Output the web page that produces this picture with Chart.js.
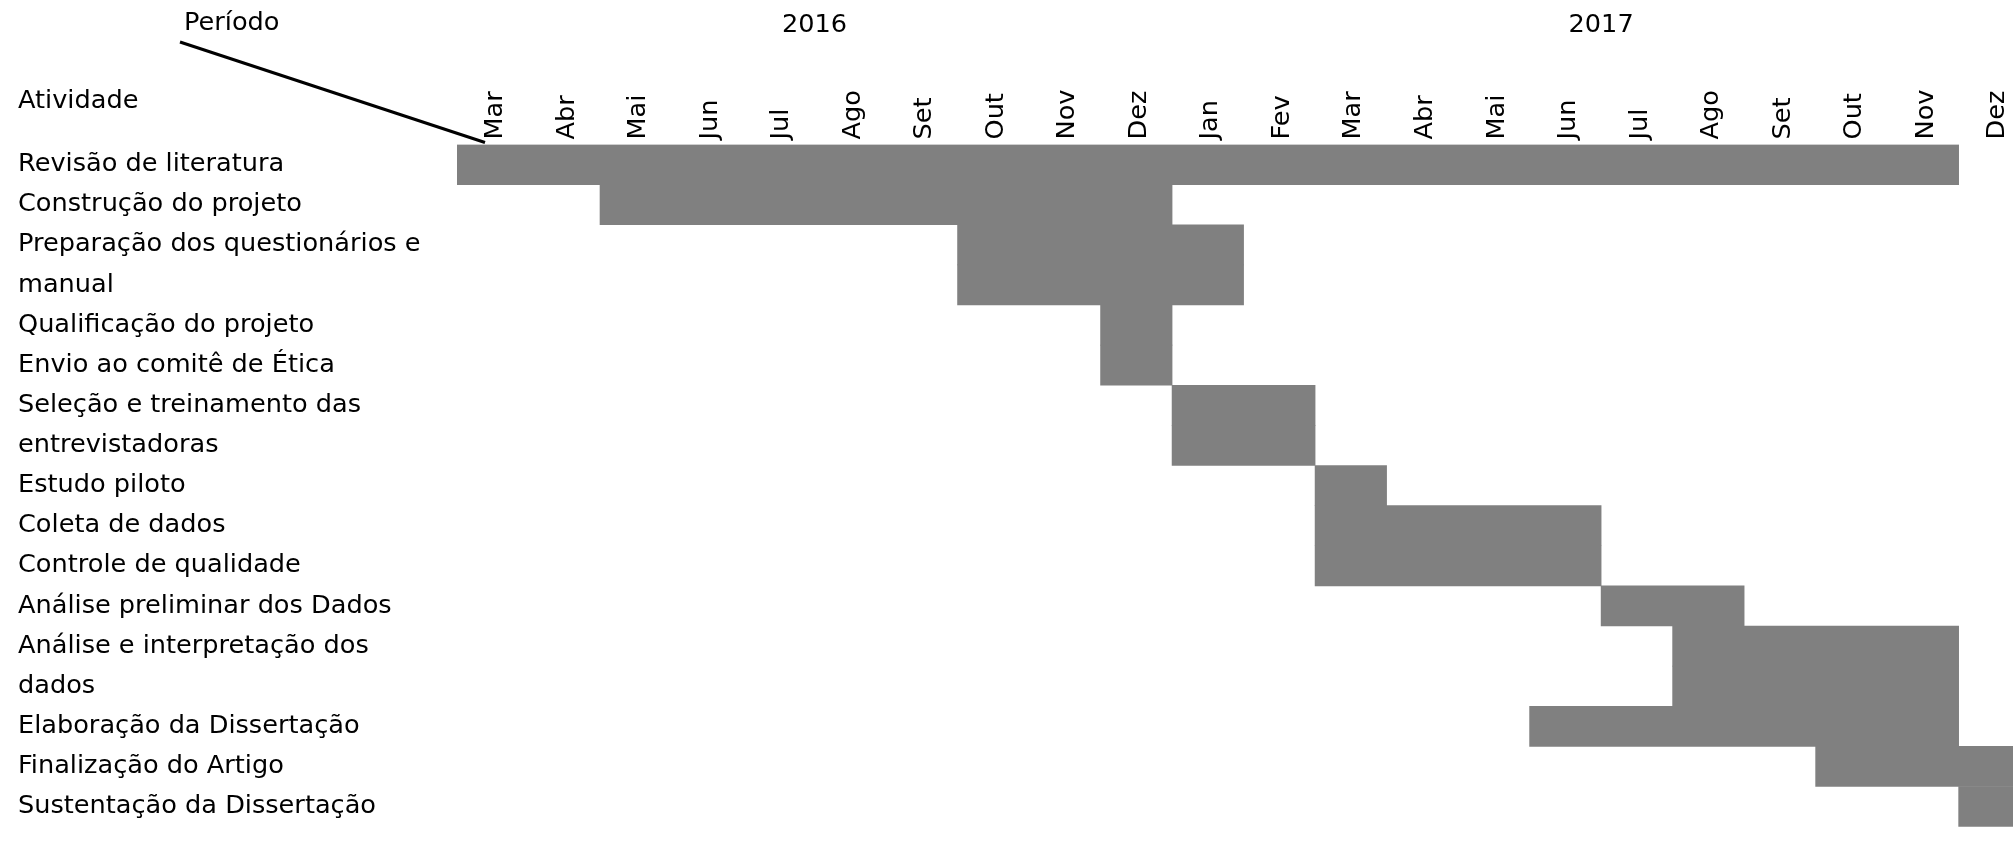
<!DOCTYPE html>
<html>
<head>
<meta charset="utf-8">
<script src="https://cdn.jsdelivr.net/npm/chart.js@4.4.1/dist/chart.umd.min.js"></script>
<style>
  body { margin: 0; background: #fff; overflow: hidden; }
  #wrap { width: 2013px; height: 845px; }
</style>
</head>
<body>
<div id="wrap"><canvas id="gantt"></canvas></div>
<script>
// one entry per text line of the activity column
const lineLabels = [
    'Revisão de literatura',
    'Construção do projeto',
    'Preparação dos questionários e',
    'manual',
    'Qualificação do projeto',
    'Envio ao comitê de Ética',
    'Seleção e treinamento das',
    'entrevistadoras',
    'Estudo piloto',
    'Coleta de dados',
    'Controle de qualidade',
    'Análise preliminar dos Dados',
    'Análise e interpretação dos',
    'dados',
    'Elaboração da Dissertação',
    'Finalização do Artigo',
    'Sustentação da Dissertação'
];

// months counted from Mar/2016 = 0
const lineStart = [0, 2, 7, 7, 9, 9, 10, 10, 12, 12, 12, 16, 17, 17, 15, 19, 21];
const lineEnd   = [21, 10, 11, 11, 10, 10, 12, 12, 13, 16, 16, 18, 21, 21, 21, 22, 22];

const months = ['Mar', 'Abr', 'Mai', 'Jun', 'Jul', 'Ago', 'Set', 'Out', 'Nov', 'Dez',
                'Jan', 'Fev', 'Mar', 'Abr', 'Mai', 'Jun', 'Jul', 'Ago', 'Set', 'Out', 'Nov', 'Dez'];
const years = ['2016', '2017'];

const FONT = 'DejaVu Sans';
const FONT_SIZE = 25.6;
const X_MAX = 21.76;

// centre of each year group, in month units
const yearCenters = [];
let groupStart = 0;
months.forEach((m, i) => {
    if (m === 'Jan' && i > 0) {
        yearCenters.push((groupStart + i) / 2);
        groupStart = i;
    }
});
yearCenters.push((groupStart + months.length) / 2);

// header texts and the diagonal line of the table corner
const headerPlugin = {
    id: 'header',
    afterDraw(chart) {
        const ctx = chart.ctx;
        const area = chart.chartArea;
        const yAxis = chart.scales.y;
        ctx.save();
        ctx.fillStyle = '#000';
        ctx.font = FONT_SIZE + 'px "' + FONT + '"';
        ctx.textBaseline = 'middle';
        ctx.textAlign = 'left';
        ctx.fillText('Período', 184, 23);
        ctx.fillText('Atividade', yAxis.left, 101);
        ctx.strokeStyle = '#000';
        ctx.lineWidth = 3;
        ctx.beginPath();
        ctx.moveTo(180, 42);
        ctx.lineTo(area.left + 28, area.top - 2);
        ctx.stroke();
        ctx.restore();
    }
};

const ctx = document.getElementById('gantt').getContext('2d');
new Chart(ctx, {
    type: 'bar',
    data: {
        labels: lineLabels,
        datasets: [{
            data: lineLabels.map((_, i) => [lineStart[i], lineEnd[i]]),
            backgroundColor: '#808080',
            borderWidth: 0,
            borderSkipped: false,
            barPercentage: 1,
            categoryPercentage: 1,
            xAxisID: 'x',
            yAxisID: 'y'
        }]
    },
    options: {
        indexAxis: 'y',
        responsive: true,
        maintainAspectRatio: false,
        animation: false,
        layout: {
            padding: { left: 18, right: 0, top: 0, bottom: 13.5 }
        },
        plugins: {
            legend: { display: false },
            tooltip: { enabled: false }
        },
        scales: {
            x: {
                type: 'linear',
                position: 'top',
                min: 0,
                max: X_MAX,
                weight: 0,
                afterBuildTicks: (scale) => {
                    scale.ticks = months.map((_, i) => ({ value: i + 0.5 }));
                },
                afterFit: (scale) => { scale.height = 62; },
                ticks: {
                    autoSkip: false,
                    minRotation: 90,
                    maxRotation: 90,
                    padding: 5,
                    labelOffset: 3,
                    color: '#000',
                    font: { family: FONT, size: FONT_SIZE, lineHeight: 0 },
                    callback: (value, index) => months[index]
                },
                grid: { display: false, drawTicks: false },
                border: { display: false }
            },
            xYear: {
                type: 'linear',
                position: 'top',
                min: 0,
                max: X_MAX,
                weight: 1,
                afterBuildTicks: (scale) => {
                    scale.ticks = yearCenters.map(v => ({ value: v }));
                },
                afterFit: (scale) => { scale.height = 82.5; },
                ticks: {
                    autoSkip: false,
                    maxRotation: 0,
                    padding: 42,
                    color: '#000',
                    font: { family: FONT, size: FONT_SIZE },
                    callback: (value, index) => years[index]
                },
                grid: { display: false, drawTicks: false },
                border: { display: false }
            },
            y: {
                type: 'category',
                afterFit: (scale) => { scale.width = 439; },
                ticks: {
                    crossAlign: 'far',
                    color: '#000',
                    font: { family: FONT, size: FONT_SIZE }
                },
                grid: { display: false, drawTicks: false },
                border: { display: false }
            }
        }
    },
    plugins: [headerPlugin]
});
</script>
</body>
</html>
